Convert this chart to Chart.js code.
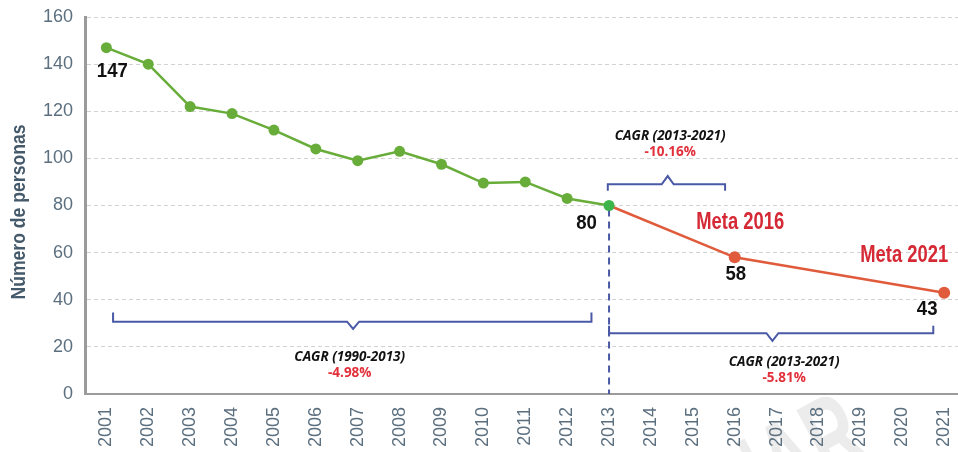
<!DOCTYPE html>
<html>
<head>
<meta charset="utf-8">
<title>Número de personas 2001-2021</title>
<script src="https://cdn.jsdelivr.net/npm/chart.js@4/dist/chart.umd.min.js"></script>
<style>
  html, body { margin: 0; padding: 0; background: #fff; }
</style>
</head>
<body>
<canvas id="chart" width="958" height="452"></canvas>
<script>
'use strict';

// **** Data ****
let years = [2001, 2002, 2003, 2004, 2005, 2006, 2007, 2008, 2009, 2010, 2011,
  2012, 2013, 2014, 2015, 2016, 2017, 2018, 2019, 2020, 2021];
let histYears = [2001, 2002, 2003, 2004, 2005, 2006, 2007, 2008, 2009, 2010, 2011, 2012, 2013];
let histValues = [147, 140, 122, 119, 112, 104, 99, 103, 97.5, 89.5, 90, 83, 80];
let goalYears = [2013, 2016, 2021];
let goalValues = [80, 58, 43];
let yTicks = [0, 20, 40, 60, 80, 100, 120, 140, 160];
let yTitle = 'Número de personas';
let goalNames = ['Meta 2016', 'Meta 2021'];
let cagrTitles = ['CAGR (1990-2013)', 'CAGR (2013-2021)', 'CAGR (2013-2021)'];
let cagrRates = ['-4.98%', '-5.81%', '-10.16%'];

// **** Styles ****
const FONT = '"Liberation Sans", Arial, sans-serif';
const SANS = '"Open Sans", "DejaVu Sans", sans-serif';
const GREEN = '#68ad3a';
const GREEN_LAST = '#3db54a';
const RED = '#e05b3b';
const RED_TEXT = '#d52a35';
const BLUE = '#4a59a6';
const AXIS_TEXT = '#5b6f7f';

// label offsets in px from their point
let valueOffsets = { 2001: [6, 24], 2013: [-22.5, 18], 2016: [1, 17], 2021: [-17, 17] };
let goalOffsets = { 2016: [5.5, -35], 2021: [-40, -37] };

// brackets and their captions, in axis units
let brackets = [
  { from: 2001.16, to: 2012.58, line: 30.7, ends: 34.6, tip: 27.6, mid: 2006.89, textX: 2006.81, textY: 12.2 },
  { from: 2013.0, to: 2020.74, line: 25.8, ends: 29.0, tip: 22.5, mid: 2016.9, textX: 2017.18, textY: 10.1 },
  { from: 2012.97, to: 2015.77, line: 89.0, ends: 86.3, tip: 92.5, mid: 2014.4, textX: 2014.46, textY: 106.1 }
];

// **** Helpers ****

function toPoints(xs, ys){
  return xs.map((x, i) => ({ x: x, y: ys[i] }));
}

function pointAt(chart, datasetIndex, year){
  let meta = chart.getDatasetMeta(datasetIndex);
  let idx = chart.data.datasets[datasetIndex].data.findIndex(p => p.x === year);
  return meta.data[idx];
}

// condensed text: squeeze the glyphs horizontally around the centre
function narrowText(ctx, text, x, y, squeeze, angle = 0){
  ctx.save();
  ctx.translate(x, y);
  ctx.rotate(angle);
  ctx.scale(squeeze, 1);
  ctx.fillText(text, 0, 0);
  ctx.restore();
}

let annotations = {
  id: 'annotations',

  beforeDraw(chart){
    // faint stamp behind everything
    let ctx = chart.ctx;
    ctx.save();
    ctx.translate(874, 458);
    ctx.rotate(-0.5);
    ctx.scale(0.6, 1);
    ctx.font = `bold 115px ${FONT}`;
    ctx.fillStyle = '#ececec';
    ctx.textAlign = 'right';
    ctx.textBaseline = 'alphabetic';
    ctx.fillText('PRELIMINAR', 0, 0);
    ctx.restore();
  },

  beforeDatasetsDraw(chart){
    let ctx = chart.ctx;
    let x = chart.scales.x.getPixelForValue(2013);
    let top = chart.scales.y.getPixelForValue(goalValues[0]);
    ctx.save();
    ctx.strokeStyle = BLUE;
    ctx.lineWidth = 2;
    ctx.setLineDash([7, 5]);
    ctx.beginPath();
    ctx.moveTo(x, top + 4);
    ctx.lineTo(x, chart.chartArea.bottom);
    ctx.stroke();
    ctx.restore();
  },

  afterDatasetsDraw(chart){
    let ctx = chart.ctx;
    let xs = chart.scales.x;
    let ys = chart.scales.y;
    ctx.save();

    // y axis title
    ctx.textAlign = 'center';
    ctx.textBaseline = 'middle';
    ctx.font = `bold 20px ${FONT}`;
    ctx.fillStyle = '#44596a';
    narrowText(ctx, yTitle, 19, 212, 0.88, -Math.PI / 2);

    // brackets
    ctx.strokeStyle = BLUE;
    ctx.lineWidth = 2;
    ctx.lineJoin = 'miter';
    brackets.forEach(b => {
      let x1 = xs.getPixelForValue(b.from);
      let x2 = xs.getPixelForValue(b.to);
      let xm = xs.getPixelForValue(b.mid);
      let yl = ys.getPixelForValue(b.line);
      let ye = ys.getPixelForValue(b.ends);
      let yt = ys.getPixelForValue(b.tip);
      ctx.beginPath();
      ctx.moveTo(x1, ye);
      ctx.lineTo(x1, yl);
      ctx.lineTo(xm - 6, yl);
      ctx.lineTo(xm, yt);
      ctx.lineTo(xm + 6, yl);
      ctx.lineTo(x2, yl);
      ctx.lineTo(x2, ye);
      ctx.stroke();
    });

    // CAGR captions
    brackets.forEach((b, i) => {
      let cx = xs.getPixelForValue(b.textX);
      let cy = ys.getPixelForValue(b.textY);
      ctx.font = `italic bold 13.5px ${SANS}`;
      ctx.fillStyle = '#111111';
      ctx.fillText(cagrTitles[i], cx, cy - 8);
      ctx.font = `bold 13.5px ${SANS}`;
      ctx.fillStyle = '#e2303b';
      ctx.fillText(cagrRates[i], cx, cy + 8);
    });

    // value labels
    ctx.font = `bold 20px ${FONT}`;
    ctx.fillStyle = '#111111';
    [[0, 2001, histValues[0]], [0, 2013, histValues[12]], [1, 2016, goalValues[1]], [1, 2021, goalValues[2]]]
      .forEach(([ds, year, value]) => {
        let pt = pointAt(chart, ds, year);
        let off = valueOffsets[year];
        narrowText(ctx, String(value), pt.x + off[0], pt.y + off[1], 0.93);
      });

    // goal names
    ctx.font = `bold 23px ${FONT}`;
    ctx.fillStyle = RED_TEXT;
    [2016, 2021].forEach((year, i) => {
      let pt = pointAt(chart, 1, year);
      let off = goalOffsets[year];
      narrowText(ctx, goalNames[i], pt.x + off[0], pt.y + off[1], 0.8);
    });

    ctx.restore();
  }
};

// **** Chart ****

let chartCanvas = document.getElementById('chart');

new Chart(chartCanvas, {
  type: 'line',
  data: {
    datasets: [{
      label: 'Histórico',
      data: toPoints(histYears, histValues),
      borderColor: GREEN,
      backgroundColor: GREEN,
      pointBackgroundColor: histYears.map(y => y === 2013 ? GREEN_LAST : GREEN),
      pointBorderWidth: 0,
      pointRadius: 5.5,
      borderWidth: 2.5,
      order: 0
    },
    {
      label: 'Meta',
      data: toPoints(goalYears, goalValues),
      borderColor: RED,
      backgroundColor: RED,
      pointBackgroundColor: RED,
      pointBorderWidth: 0,
      pointRadius: goalYears.map((y, i) => i === 0 ? 0 : 6),
      borderWidth: 2.5,
      order: 1
    }]
  },
  options: {
    responsive: false,
    animation: false,
    layout: { autoPadding: false, padding: { top: 17, right: 0, bottom: 0, left: 0 } },
    plugins: {
      legend: { display: false },
      tooltip: { enabled: false }
    },
    scales: {
      x: {
        type: 'linear',
        min: 2000.49,
        max: 2021.33,
        afterBuildTicks: axis => { axis.ticks = years.map(v => ({ value: v })); },
        afterFit: axis => {
          axis.height = 58;
          axis.paddingLeft = 0;
          axis.paddingRight = 0;
        },
        grid: { display: false, drawTicks: false },
        border: { color: '#9b9b9b', width: 2 },
        ticks: {
          minRotation: 90,
          maxRotation: 90,
          autoSkip: false,
          padding: 13,
          color: AXIS_TEXT,
          font: { family: FONT, size: 18 },
          callback: v => String(v)
        }
      },
      y: {
        min: 0,
        max: 160,
        afterBuildTicks: axis => { axis.ticks = yTicks.map(v => ({ value: v })); },
        afterFit: axis => {
          axis.width = 85;
          axis.paddingTop = 0;
          axis.paddingBottom = 0;
        },
        grid: { color: '#d2d2d2', lineWidth: 1, drawTicks: false },
        border: { color: '#9b9b9b', width: 3, dash: [4, 3] },
        ticks: {
          padding: 12,
          color: AXIS_TEXT,
          font: { family: FONT, size: 18 }
        }
      }
    }
  },
  plugins: [annotations]
});
</script>
</body>
</html>
